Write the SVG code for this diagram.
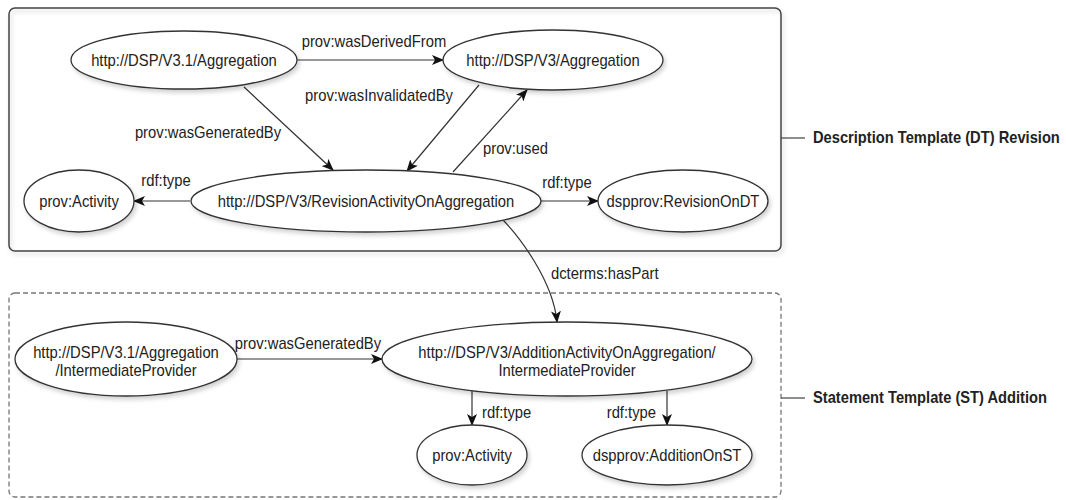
<svg xmlns="http://www.w3.org/2000/svg" width="1066" height="500" viewBox="0 0 1066 500">
  <style>
    .node ellipse { fill: #ffffff; stroke: #333333; stroke-width: 1.3; filter: url(#shadow); }
    .lbl { font-family: "Liberation Sans", Arial, sans-serif; font-size: 17px; fill: #222222;
           transform-box: fill-box; transform-origin: center; transform: scaleX(0.87); }
    .start { transform-origin: left center; }
    .mid { text-anchor: middle; }
    .end { text-anchor: end; transform-origin: right center; }
    .edge { fill: none; stroke: #333333; stroke-width: 1.2; marker-end: url(#arrow); }
    .group-title { font-family: "Liberation Sans", Arial, sans-serif; font-size: 16.5px; font-weight: bold; fill: #222222;
                   transform-box: fill-box; transform-origin: left center; transform: scaleX(0.89); }
    .leader { stroke: #444444; stroke-width: 1.2; }
  </style>
  <defs>
    <filter id="shadow" x="-10%" y="-20%" width="125%" height="150%">
      <feDropShadow dx="2" dy="3" stdDeviation="2" flood-color="#000000" flood-opacity="0.18"/>
    </filter>
    <marker id="arrow" viewBox="0 0 12 10" refX="11" refY="5" markerWidth="12" markerHeight="10" markerUnits="userSpaceOnUse" orient="auto">
      <path d="M0,0 L12,5 L0,10 L3,5 z" fill="#111111"/>
    </marker>
  </defs>

  <rect width="1066" height="500" fill="#ffffff"/>

  <!-- group frames -->
  <g id="dt-revision">
    <rect x="9" y="8" width="772" height="243" rx="6" fill="none" stroke="#444444" stroke-width="1.5" filter="url(#shadow)"/>
    <line class="leader" x1="781" y1="138" x2="805" y2="138"/>
    <text class="group-title" x="813" y="143">Description Template (DT) Revision</text>
  </g>
  <g id="st-addition">
    <rect x="9" y="293" width="772" height="204" rx="6" fill="none" stroke="#777777" stroke-width="1.3" stroke-dasharray="5,3"/>
    <line class="leader" x1="781" y1="398" x2="805" y2="398"/>
    <text class="group-title" x="813" y="403">Statement Template (ST) Addition</text>
  </g>

  <!-- connectors -->
  <g id="connectors">
    <path class="edge" d="M297,60 L443,60"/>
    <text class="lbl mid" x="374" y="47">prov:wasDerivedFrom</text>

    <path class="edge" d="M244,87 L333,170"/>
    <text class="lbl mid" x="208" y="138">prov:wasGeneratedBy</text>

    <path class="edge" d="M479,85 L407,171"/>
    <text class="lbl mid" x="379" y="101">prov:wasInvalidatedBy</text>

    <path class="edge" d="M453,172 L527,90"/>
    <text class="lbl start" x="483" y="154">prov:used</text>

    <path class="edge" d="M190,201 L134,201"/>
    <text class="lbl mid" x="166" y="186">rdf:type</text>

    <path class="edge" d="M541,201 L598,201"/>
    <text class="lbl mid" x="567" y="188">rdf:type</text>

    <path class="edge" d="M502,219 C518,235 553,280 557,322"/>
    <text class="lbl start" x="551" y="279">dcterms:hasPart</text>

    <path class="edge" d="M237,359 L382,359"/>
    <text class="lbl mid" x="308" y="349">prov:wasGeneratedBy</text>

    <path class="edge" d="M472,391 L472,425"/>
    <text class="lbl start" x="482" y="418">rdf:type</text>

    <path class="edge" d="M667,391 L667,425"/>
    <text class="lbl end" x="656" y="418">rdf:type</text>
  </g>

  <!-- nodes -->
  <g id="v31-aggregation" class="node">
    <ellipse cx="184" cy="60" rx="113" ry="29"/>
    <text class="lbl mid" x="184" y="66">http://DSP/V3.1/Aggregation</text>
  </g>
  <g id="v3-aggregation" class="node">
    <ellipse cx="553" cy="60" rx="110" ry="30"/>
    <text class="lbl mid" x="553" y="66">http://DSP/V3/Aggregation</text>
  </g>
  <g id="prov-activity-dt" class="node">
    <ellipse cx="79" cy="201" rx="55" ry="31"/>
    <text class="lbl mid" x="79" y="207">prov:Activity</text>
  </g>
  <g id="revision-activity" class="node">
    <ellipse cx="366" cy="201" rx="175" ry="31"/>
    <text class="lbl mid" x="366" y="207">http://DSP/V3/RevisionActivityOnAggregation</text>
  </g>
  <g id="revision-on-dt" class="node">
    <ellipse cx="683" cy="201" rx="85" ry="31"/>
    <text class="lbl mid" x="683" y="207">dspprov:RevisionOnDT</text>
  </g>
  <g id="v31-intermediate-provider" class="node">
    <ellipse cx="126" cy="359" rx="111" ry="37"/>
    <text class="lbl mid" x="126" y="358">http://DSP/V3.1/Aggregation</text>
    <text class="lbl mid" x="126" y="376">/IntermediateProvider</text>
  </g>
  <g id="addition-activity" class="node">
    <ellipse cx="567" cy="359" rx="185" ry="37"/>
    <text class="lbl mid" x="567" y="358">http://DSP/V3/AdditionActivityOnAggregation/</text>
    <text class="lbl mid" x="567" y="376">IntermediateProvider</text>
  </g>
  <g id="prov-activity-st" class="node">
    <ellipse cx="472" cy="455" rx="55" ry="30"/>
    <text class="lbl mid" x="472" y="461">prov:Activity</text>
  </g>
  <g id="addition-on-st" class="node">
    <ellipse cx="667" cy="455" rx="85" ry="30"/>
    <text class="lbl mid" x="667" y="461">dspprov:AdditionOnST</text>
  </g>
</svg>
